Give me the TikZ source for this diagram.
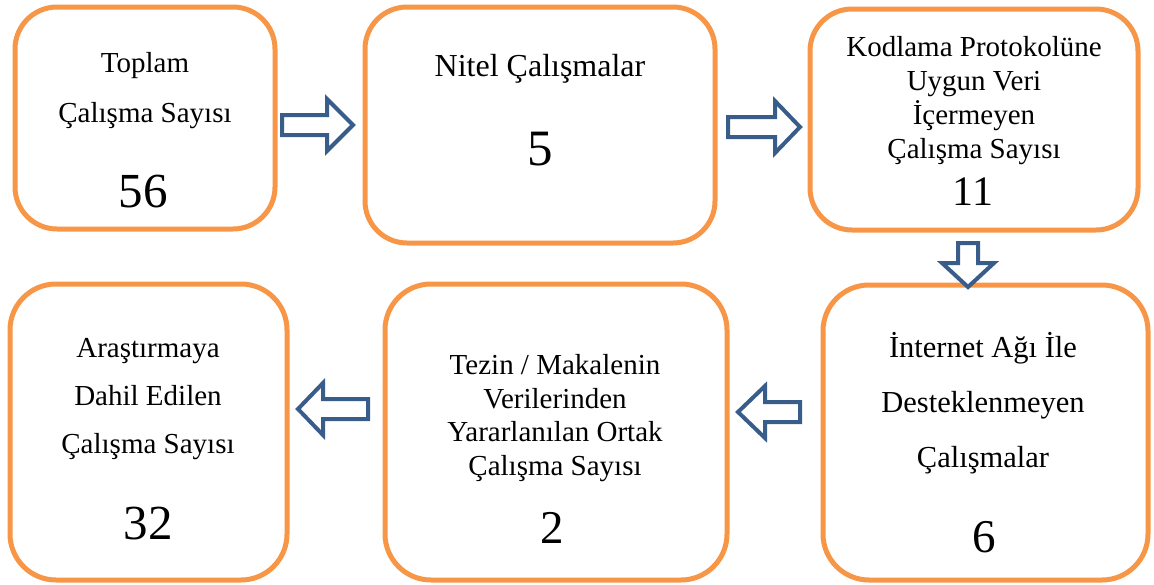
\documentclass[tikz,border=0pt]{standalone}
\usepackage{fontspec}
\setmainfont{Liberation Serif}
\usepackage{xcolor}
\definecolor{BoxOrange}{RGB}{247, 150, 70}
\definecolor{ArrowBlue}{RGB}{56, 93, 138}

% block arrow: tail point, angle, shaft length, head length
\newcommand{\blockarrow}[4]{%
  \draw[arrowline, shift={#1}, rotate=#2] (0,-10) -- (#3,-10) -- (#3,-26) -- ({#3+#4},0) -- (#3,26) -- (#3,10) -- (0,10) -- cycle;}

\tikzset{
  box/.style={draw=BoxOrange, line width=5pt, fill=white, inner sep=0pt},
  arrowline/.style={draw=ArrowBlue, line width=4pt, fill=white, line join=miter},
  txt/.style={anchor=base, align=center, inner sep=0pt},
  num/.style={anchor=base, inner sep=0pt, font=\fontsize{49}{49}\selectfont}
}

\begin{document}
\begin{tikzpicture}[x=1pt, y=-1pt]
            \useasboundingbox (0,0) rectangle (1154,584);

            % Top row
            \node[box, rounded corners=42pt, minimum width=260pt, minimum height=222pt] (toplam) at (145,118) {};
            \node[box, rounded corners=42pt, minimum width=350pt, minimum height=236pt] (nitel) at (540,125) {};
            \node[box, rounded corners=42pt, minimum width=328pt, minimum height=221pt] (kodlama) at (974,119.5) {};

            % Bottom row
            \node[box, rounded corners=46pt, minimum width=325pt, minimum height=295pt] (internet) at (985.5,432.5) {};
            \node[box, rounded corners=46pt, minimum width=342pt, minimum height=296pt] (tezin) at (556,432) {};
            \node[box, rounded corners=46pt, minimum width=277pt, minimum height=296pt] (arastirma) at (148.5,432) {};

            % Texts (base = last line)
            \node[txt, font=\fontsize{29}{50}\selectfont] (toplamText) at (145,122) {Toplam\\Çalışma Sayısı};
            \node[num] (toplamNum) at (143,207) {56};

            \node[txt, font=\fontsize{32}{34}\selectfont] (nitelText) at (540,76) {Nitel Çalışmalar};
            \node[num, font=\fontsize{51}{51}\selectfont] (nitelNum) at (540,165) {5};

            \node[txt, font=\fontsize{29}{33.7}\selectfont] (kodlamaText) at (974,158) {Kodlama Protokolüne\\Uygun Veri\\İçermeyen\\Çalışma Sayısı};
            \node[num, font=\fontsize{42}{42}\selectfont] (kodlamaNum) at (973,205) {11};

            \node[txt, font=\fontsize{30.5}{55}\selectfont] (internetText) at (983,467) {İnternet Ağı İle\\Desteklenmeyen\\Çalışmalar};
            \node[num, font=\fontsize{47}{47}\selectfont] (internetNum) at (984,552) {6};

            \node[txt, font=\fontsize{29}{33.5}\selectfont] (tezinText) at (555,475) {Tezin / Makalenin\\Verilerinden\\Yararlanılan Ortak\\Çalışma Sayısı};
            \node[num, font=\fontsize{47}{47}\selectfont] (tezinNum) at (552,543) {2};

            \node[txt, font=\fontsize{29}{48}\selectfont] (arastirmaText) at (148,453) {Araştırmaya\\Dahil Edilen\\Çalışma Sayısı};
            \node[num] (arastirmaNum) at (148,539) {32};

            % Block arrows
            \blockarrow{(282,125)}{0}{45}{26}
            \blockarrow{(728,127)}{0}{47}{25}
            \blockarrow{(968,243)}{-90}{20}{24}
            \blockarrow{(800,412)}{180}{35}{27}
            \blockarrow{(368,409)}{180}{45}{25}
\end{tikzpicture}
\end{document}
